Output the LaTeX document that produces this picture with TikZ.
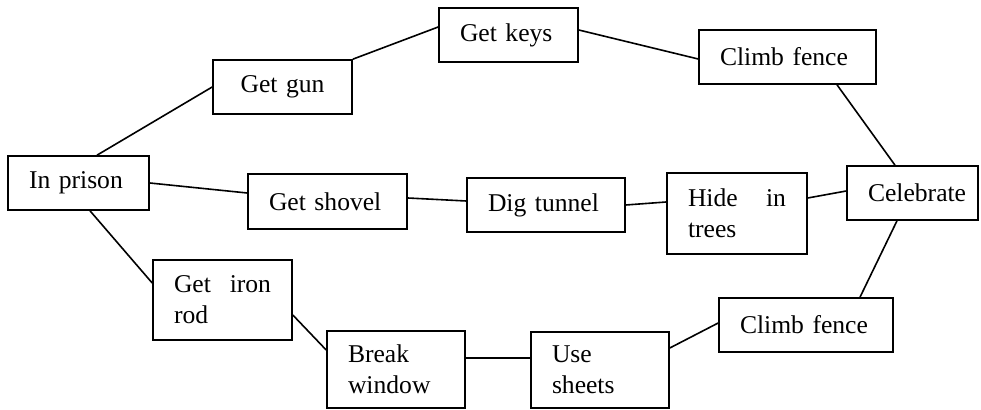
\documentclass[tikz,border=0pt]{standalone}
\usepackage{fontspec}
\setmainfont{Liberation Serif}
\tikzset{
    stepbox/.style 2 args={draw, line width=0.8pt, inner xsep=10.5pt, inner ysep=0pt,
        align=left, text width=#1, minimum height=#2},
    link/.style={line width=0.8pt}
}

\begin{document}
\begin{tikzpicture}[x=0.5pt, y=-0.5pt, every node/.style={font=\fontsize{12.8}{15.5}\selectfont}]
    \useasboundingbox (0,0) rectangle (981,410);

    \node[stepbox={49.5pt}{27pt}] (prison) at (78.5,183) {In prison};

    % top route
    \node[stepbox={48.5pt}{27pt}, align=center] (gun) at (282.5,87) {Get gun};
    \node[stepbox={48.5pt}{27pt}] (keys) at (508.5,35) {Get keys};
    \node[stepbox={67.5pt}{27pt}] (fenceA) at (787.5,57) {Climb fence};

    % middle route
    \node[stepbox={58.5pt}{27.5pt}] (shovel) at (327.5,201.5) {Get shovel};
    \node[stepbox={58pt}{27pt}] (tunnel) at (546,205) {Dig tunnel};
    \node[stepbox={49pt}{40.5pt}] (hide) at (737,213.5) {Hide\hfill in\\trees};

    \node[stepbox={44.5pt}{27pt}] (celebrate) at (912.5,193) {Celebrate};

    % bottom route
    \node[stepbox={48.5pt}{40pt}] (rod) at (222.5,300) {Get\hfill iron\\rod};
    \node[stepbox={48pt}{38.5pt}] (window) at (396,369.5) {Break\\window};
    \node[stepbox={48pt}{38pt}] (sheets) at (600,370) {Use\\sheets};
    \node[stepbox={66pt}{27pt}] (fenceB) at (806,325) {Climb fence};

    \draw[link] ([xshift=9.25pt]prison.north) -- (gun.west);
    \draw[link] (gun.north east) -- ([yshift=4pt]keys.west);
    \draw[link] ([yshift=2.5pt]keys.east) -- ([yshift=-1pt]fenceA.west);
    \draw[link] ([xshift=24.75pt]fenceA.south) -- ([xshift=-8.75pt]celebrate.north);

    \draw[link] (prison.east) -- ([yshift=4.25pt]shovel.west);
    \draw[link] ([yshift=1.75pt]shovel.east) -- ([yshift=2pt]tunnel.west);
    \draw[link] (tunnel.east) -- ([yshift=5.75pt]hide.west);
    \draw[link] ([yshift=7.75pt]hide.east) -- ([yshift=1pt]celebrate.west);

    \draw[link] ([xshift=5.75pt]prison.south) -- ([yshift=8.5pt]rod.west);
    \draw[link] ([yshift=-7.5pt]rod.east) -- ([yshift=9.75pt]window.west);
    \draw[link] ([yshift=5.75pt]window.east) -- ([yshift=6pt]sheets.west);
    \draw[link] ([yshift=11pt]sheets.east) -- ([yshift=1pt]fenceB.west);
    \draw[link] ([xshift=-7.75pt]celebrate.south) -- ([xshift=27pt]fenceB.north);
\end{tikzpicture}
\end{document}
